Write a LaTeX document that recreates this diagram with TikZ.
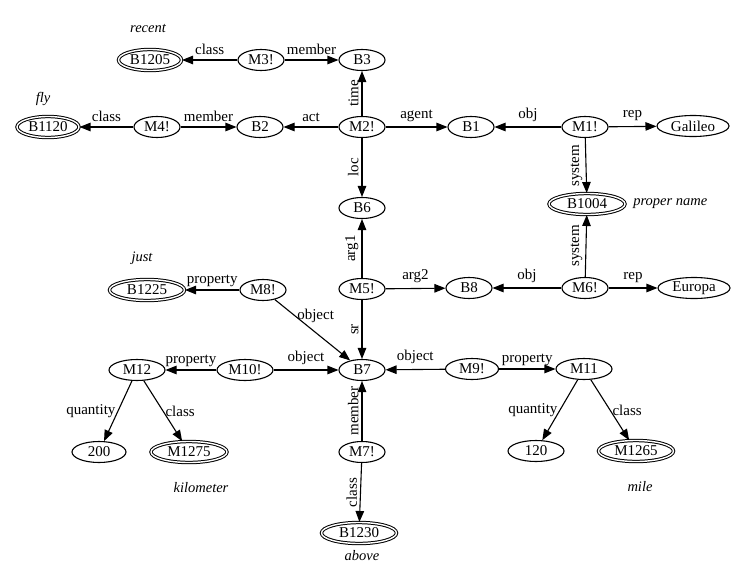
\documentclass[tikz,border=0pt]{standalone}
\usepackage{fontspec}
\setmainfont{Liberation Serif}
\usetikzlibrary{arrows.meta, positioning, shapes.geometric}

\begin{document}
\begin{tikzpicture}[x=1pt, y=-1pt, line width=1.1pt,
        >={Triangle[length=11pt, width=8.5pt]},
        nd/.style={ellipse, draw, minimum width=46pt, minimum height=21pt, inner sep=0pt, font=\fontsize{15}{17}\selectfont},
        base/.style={nd, double, double distance=1.4pt, line width=1pt},
        lab/.style={font=\fontsize{15}{17}\selectfont, inner sep=2pt},
        side/.style={lab, rotate=90, anchor=south, inner sep=3pt},
        note/.style={font=\itshape\fontsize{14.5}{17}\selectfont}]
            \useasboundingbox (0,0) rectangle (750,573);
            % upper half
            \node[nd] (M3) at (261,60) {M3!};
            \node[base, minimum width=63pt] (B1205) at (150,60) {B1205};
            \node[nd] (B3) at (362,60) {B3};
            \node[base, minimum width=62pt] (B1120) at (48,127) {B1120};
            \node[nd] (M4) at (157,127) {M4!};
            \node[nd] (B2) at (260,127) {B2};
            \node[nd] (M2) at (362,127) {M2!};
            \node[nd] (B1) at (471,127) {B1};
            \node[nd] (M1) at (585,127) {M1!};
            \node[nd, minimum width=72pt] (Galileo) at (693,126) {Galileo};
            \node[base, minimum width=76pt] (B1004) at (587,204) {B1004};
            \node[nd] (B6) at (362,208) {B6};
            \node[base, minimum width=75pt] (B1225) at (147,290) {B1225};
            \node[nd] (M8) at (263,290) {M8!};
            \node[nd] (M5) at (362,289) {M5!};
            \node[nd] (B8) at (469,288) {B8};
            \node[nd] (M6) at (585,288) {M6!};
            \node[nd, minimum width=72pt] (Europa) at (694,288) {Europa};
            % lower half
            \node[nd, minimum width=56pt] (M12) at (137,370) {M12};
            \node[nd, minimum width=56pt] (M10) at (245,370) {M10!};
            \node[nd] (B7) at (362,370) {B7};
            \node[nd, minimum width=53pt] (M9) at (472,369) {M9!};
            \node[nd, minimum width=56pt] (M11) at (584,369) {M11};
            \node[nd, minimum width=54pt] (n200) at (99,452) {200};
            \node[base, minimum width=76pt] (M1275) at (189,452) {M1275};
            \node[nd] (M7) at (362,452) {M7!};
            \node[nd, minimum width=56pt] (n120) at (536,451) {120};
            \node[base, minimum width=75pt] (M1265) at (636,451) {M1265};
            \node[base, minimum width=75pt] (B1230) at (359,533) {B1230};

            \node[note] (recent) at (148,28) {recent};
            \node[note] (fly) at (43,99) {fly};
            \node[note, right=4pt of B1004] (propername) {proper name};
            \node[note] (just) at (142,258) {just};
            \node[note] (kilometer) at (201,488) {kilometer};
            \node[note] (mile) at (640,487) {mile};
            \node[note] (above) at (362,556) {above};

            \draw[->] (M3) -- node[above=3pt, lab] {class} (B1205);
            \draw[->] (M3) -- node[above=3pt, lab] {member} (B3);
            \draw[->] (M4) -- node[above=3pt, lab] {class} (B1120);
            \draw[->] (M4) -- node[above=3pt, lab] {member} (B2);
            \draw[->] (M2) -- node[above=3pt, lab] {act} (B2);
            \draw[->] (M2) -- node[above=3pt, lab] {agent} (B1);
            \draw[->] (M2) -- node[side] {time} (B3);
            \draw[->] (M2) -- node[side] {loc} (B6);
            \draw[->] (M1) -- node[above=3pt, lab] {obj} (B1);
            \draw[->] (M1) -- node[above=3pt, lab] {rep} (Galileo);
            \draw[->] (M1) -- node[side] {system} (B1004);
            \draw[->] (M6) -- node[side] {system} (B1004);
            \draw[->] (M6) -- node[above=3pt, lab] {obj} (B8);
            \draw[->] (M6) -- node[above=3pt, lab] {rep} (Europa);
            \draw[->] (M5) -- node[side] {arg1} (B6);
            \draw[->] (M5) -- node[above=3pt, lab] {arg2} (B8);
            \draw[->] (M5) -- node[side] {sr} (B7);
            \draw[->] (M8) -- node[above=1pt, lab] {property} (B1225);
            \draw[->] (M8) -- node[pos=0.45, above right=2pt and -14pt, lab] {object} (B7);
            \draw[->] (M10) -- node[above=1pt, lab] {property} (M12);
            \draw[->] (M10) -- node[above=3pt, lab] {object} (B7);
            \draw[->] (M12) -- node[left, lab] {quantity} (n200);
            \draw[->] (M12) -- node[right, lab] {class} (M1275);
            \draw[->] (M9) -- node[above=3pt, lab] {object} (B7);
            \draw[->] (M9) -- node[above=1pt, lab] {property} (M11);
            \draw[->] (M11) -- node[left, lab] {quantity} (n120);
            \draw[->] (M11) -- node[right, lab] {class} (M1265);
            \draw[->] (M7) -- node[side] {member} (B7);
            \draw[->] (M7) -- node[side] {class} (B1230);
        \end{tikzpicture}
\end{document}
